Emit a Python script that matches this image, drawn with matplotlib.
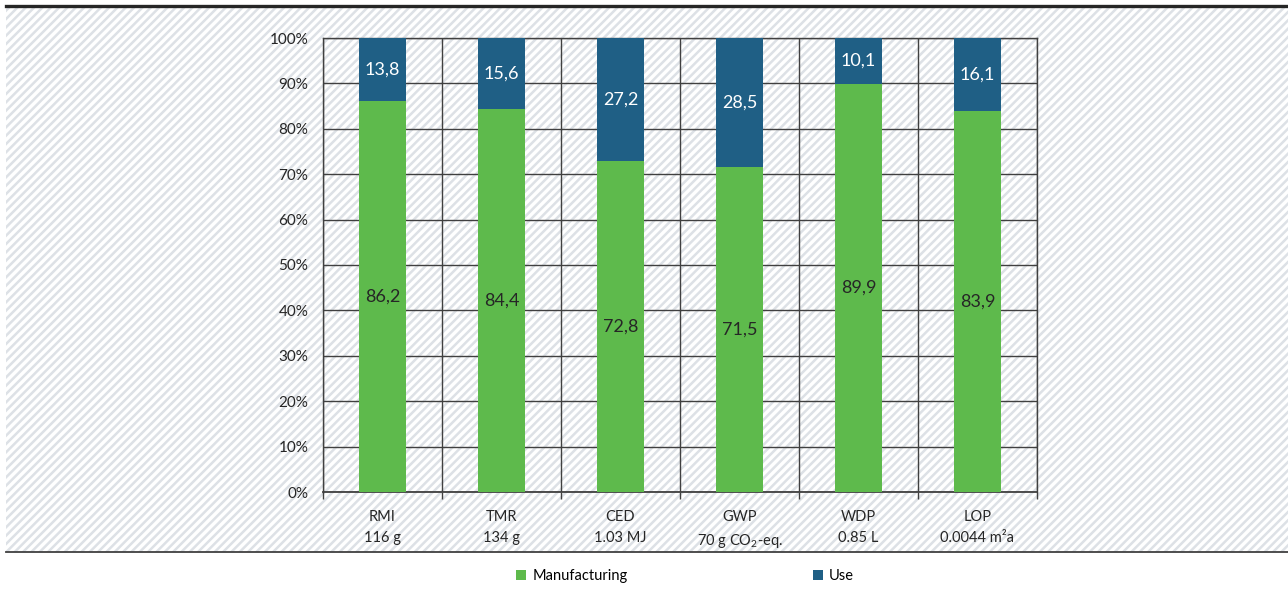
import matplotlib
matplotlib.use("Agg")
import matplotlib.pyplot as plt
from matplotlib.patches import Rectangle, Patch
from matplotlib.lines import Line2D
import numpy as np

plt.rcParams['font.family'] = ['Lato', 'DejaVu Sans']
plt.rcParams['mathtext.fontset'] = 'custom'
plt.rcParams['mathtext.rm'] = 'Lato'
plt.rcParams['mathtext.default'] = 'rm'
plt.rcParams['hatch.linewidth'] = 1.8
plt.rcParams['hatch.color'] = '#DDE1E6'

categories = ["RMI\n116 g", "TMR\n134 g", "CED\n1.03 MJ", "GWP\n70 g CO$_2$-eq.", "WDP\n0.85 L", "LOP\n0.0044 m²a"]
manufacturing = [86.2, 84.4, 72.8, 71.5, 89.9, 83.9]
use = [13.8, 15.6, 27.2, 28.5, 10.1, 16.1]
series_names = ["Manufacturing", "Use"]
colors = ["#5EBA4C", "#1F5F85"]

W, H = 1288, 594
fig = plt.figure(figsize=(W / 100, H / 100), dpi=100)
fig.patch.set_facecolor('white')

# hatched background
bg = Rectangle((6 / W, 1 - 552 / H), 1 - 6 / W, (552 - 6) / H, transform=fig.transFigure,
               facecolor='white', edgecolor='#DDE1E6', hatch='////', linewidth=0, zorder=-5)
fig.add_artist(bg)
fig.add_artist(Line2D([6 / W, 1], [1 - 6 / H, 1 - 6 / H], transform=fig.transFigure, color='#262626', lw=2.4, zorder=-4))
fig.add_artist(Line2D([6 / W, 1], [1 - 552 / H, 1 - 552 / H], transform=fig.transFigure, color='#404040', lw=1.3, zorder=-4))

ax = fig.add_axes([323 / W, 1 - 492 / H, (1037 - 323) / W, (492 - 38) / H], zorder=2)
ax.patch.set_alpha(0)

x = np.arange(len(categories))
bw = 0.4
ax.bar(x, manufacturing, bw, color=colors[0], zorder=3, label=series_names[0])
ax.bar(x, use, bw, bottom=manufacturing, color=colors[1], zorder=3, label=series_names[1])

for xi, m, u in zip(x, manufacturing, use):
    ax.text(xi, m / 2, f"{m:.1f}".replace('.', ','), ha='center', va='center', fontsize=13, color='#262626', zorder=4)
    ax.text(xi, m + u / 2, f"{u:.1f}".replace('.', ','), ha='center', va='center', fontsize=13, color='white', zorder=4)

ax.set_xlim(-0.5, len(categories) - 0.5)
ax.set_ylim(0, 100)
ax.set_yticks(np.arange(0, 101, 10))
ax.set_yticklabels([f"{v}%" for v in range(0, 101, 10)], fontsize=11, color='#262626')
ax.tick_params(axis='y', length=0, pad=10.5)

ax.set_xticks(np.arange(-0.5, len(categories), 1.0))
ax.set_xticklabels([])
ax.tick_params(axis='x', which='major', length=5, width=1, color='#404040')
ax.set_xticks(x, minor=True)
ax.set_xticklabels(categories, minor=True, fontsize=10.5, color='#262626', linespacing=1.6)
ax.tick_params(axis='x', which='minor', length=0, pad=13)

ax.grid(True, which='major', color='#404040', linewidth=1.0, zorder=1)
ax.set_axisbelow(True)
for s in ax.spines.values():
    s.set_color('#404040')
    s.set_linewidth(1.0)
ax.spines['bottom'].set_linewidth(1.3)

handles = [Patch(facecolor=colors[0]), Patch(facecolor=colors[1])]
fig.legend(handles, series_names, loc='center', bbox_to_anchor=(685 / W, 1 - 576 / H),
           ncol=2, frameon=False, fontsize=10.5, handlelength=0.7, handleheight=0.7,
           handletextpad=0.4, columnspacing=12.7)

fig.savefig("out.png", dpi=100)
